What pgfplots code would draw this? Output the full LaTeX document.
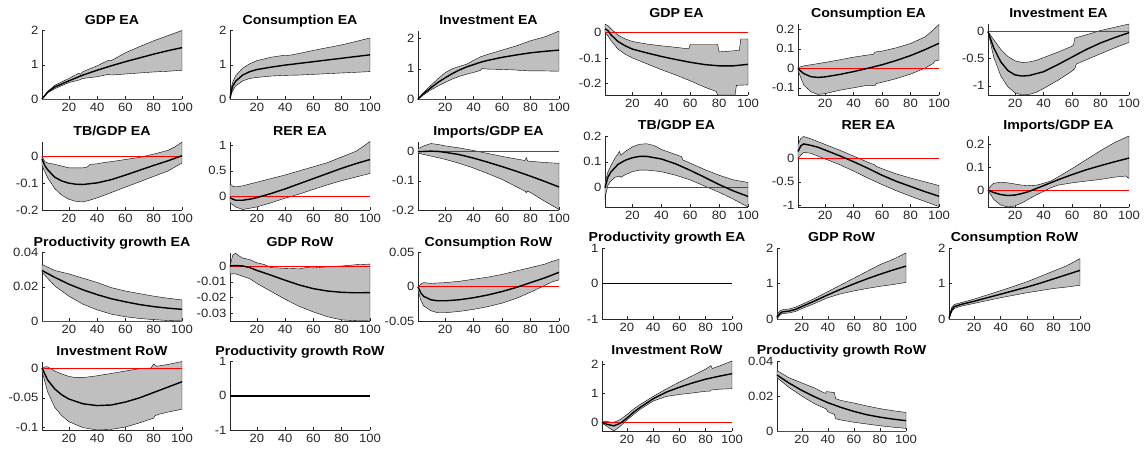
\documentclass[border=0pt]{standalone}
\usepackage{fontspec}
\setmainfont{Liberation Sans}[FakeStretch=1.09]
\usepackage{pgfplots}
\pgfplotsset{compat=1.18}
\definecolor{axg}{RGB}{38,38,38}
\definecolor{bandg}{RGB}{191,191,191}
\pgfplotsset{every axis title/.style={at={(0.5,1)}, anchor=base, yshift=6.5pt, font=\fontsize{13}{14}\selectfont\bfseries},
 irf/.style={scale only axis, anchor=south west, xmin=1, xmax=100,
  xtick={20,40,60,80,100}, xticklabels={20,40,60,80,100},
  axis x line*=bottom, axis y line*=left, tick align=inside,
  axis line style={-,draw=axg,line width=0.6pt},
  major tick style={draw=axg,line width=0.5pt}, major tick length=3pt,
  tick label style={font=\fontsize{12}{12}\selectfont, text=axg},
  xticklabel style={yshift=-1pt},
  scaled y ticks=false, clip=false}}
\newcommand{\irf}[4]{%
\begin{axis}[irf,#1,title={#2}]
\addplot[fill=bandg,draw=black,line width=0.4pt] coordinates {#3} -- cycle;
\addplot[red,line width=0.9pt] coordinates {(1,0) (100,0)};
\addplot[black,line width=1.4pt] coordinates {#4};
\end{axis}}
\newcommand{\irfz}[2]{%
\begin{axis}[irf,#1,title={#2},ymin=-1,ymax=1,ytick={-1,0,1},yticklabels={-1,0,1}]
\addplot[red,line width=0.9pt] coordinates {(1,0) (100,0)};
\addplot[black,line width=1.6pt] coordinates {(1,0) (100,0)};
\end{axis}}
\begin{document}
\begin{tikzpicture}
\useasboundingbox (0,0) rectangle (1144pt,-453pt);
% ===== LEFT PANEL =====
\irf{at={(42pt,-99pt)},width=140pt,height=68.5pt,ymin=0,ymax=2,ytick={0,1,2},yticklabels={0,1,2}}{GDP EA}
{(1,0) (5,0.22) (10,0.4) (20,0.6) (27,0.75) (28,0.72) (30,0.8) (40,0.97) (48,1.13) (50,1.12) (60,1.35) (70,1.53) (80,1.7) (90,1.85) (100,2.0)
 (100,0.84) (90,0.81) (80,0.79) (70,0.76) (60,0.73) (50,0.7) (48,0.72) (40,0.65) (30,0.6) (27,0.55) (20,0.48) (10,0.3) (5,0.18) (1,0)}
{(1,0) (5,0.2) (10,0.35) (20,0.53) (30,0.7) (40,0.84) (50,0.97) (60,1.09) (70,1.2) (80,1.31) (90,1.41) (100,1.5)}
\irf{at={(230pt,-99pt)},width=140pt,height=68.5pt,ymin=0,ymax=2,ytick={0,1,2},yticklabels={0,1,2}}{Consumption EA}
{(1,0.05) (2,0.35) (3,0.5) (5,0.68) (10,0.9) (15,1.03) (20,1.12) (30,1.22) (40,1.28) (42,1.27) (50,1.33) (60,1.42) (70,1.5) (80,1.58) (90,1.68) (100,1.78)
 (100,0.8) (90,0.78) (80,0.76) (70,0.74) (60,0.72) (50,0.7) (40,0.69) (30,0.67) (20,0.63) (15,0.6) (10,0.53) (5,0.38) (3,0.25) (2,0.15) (1,0)}
{(1,0.02) (2,0.25) (3,0.38) (5,0.52) (10,0.7) (15,0.8) (20,0.86) (30,0.93) (40,0.99) (50,1.04) (60,1.09) (70,1.14) (80,1.19) (90,1.24) (100,1.29)}
\irf{at={(418pt,-99pt)},width=141pt,height=68.5pt,ymin=0,ymax=2.27,ytick={0,1,2},yticklabels={0,1,2}}{Investment EA}
{(1,0) (5,0.22) (10,0.45) (15,0.67) (20,0.87) (25,1.0) (30,1.08) (35,1.15) (40,1.28) (45,1.4) (50,1.48) (55,1.55) (60,1.62) (70,1.76) (80,1.93) (90,2.06) (100,2.25)
 (100,0.92) (90,0.93) (80,0.93) (72,0.95) (70,0.96) (60,0.98) (50,0.99) (46,1.01) (45,0.95) (40,0.88) (35,0.82) (30,0.75) (25,0.66) (20,0.55) (15,0.43) (10,0.3) (5,0.14) (1,0)}
{(1,0) (5,0.18) (10,0.37) (15,0.55) (20,0.7) (25,0.84) (30,0.96) (35,1.06) (40,1.14) (45,1.22) (50,1.28) (60,1.38) (70,1.46) (80,1.53) (90,1.58) (100,1.62)}
\irf{at={(42pt,-210pt)},width=140pt,height=68.5pt,ymin=-0.2,ymax=0.055,ytick={-0.2,-0.1,0},yticklabels={-0.2,-0.1,0}}{TB/GDP EA}
{(1,0) (3,-0.02) (5,-0.025) (10,-0.03) (20,-0.043) (30,-0.043) (33,-0.04) (35,-0.03) (40,-0.028) (45,-0.023) (50,-0.02) (60,-0.012) (70,-0.004) (80,0.008) (85,0.015) (90,0.022) (95,0.035) (100,0.053)
 (100,-0.025) (95,-0.04) (90,-0.055) (80,-0.075) (70,-0.095) (60,-0.115) (50,-0.135) (40,-0.155) (35,-0.163) (30,-0.17) (25,-0.168) (20,-0.16) (15,-0.145) (10,-0.12) (5,-0.08) (1,-0.035)}
{(1,-0.01) (3,-0.035) (5,-0.05) (10,-0.078) (15,-0.092) (20,-0.1) (25,-0.104) (30,-0.105) (40,-0.099) (50,-0.087) (60,-0.07) (70,-0.052) (80,-0.034) (90,-0.017) (100,0.002)}
\irf{at={(230pt,-210pt)},width=140pt,height=68.5pt,ymin=-0.26,ymax=1.07,ytick={0,0.5,1},yticklabels={0,0.5,1}}{RER EA}
{(1,0.25) (3,0.2) (5,0.19) (10,0.21) (20,0.28) (30,0.35) (40,0.42) (50,0.5) (60,0.58) (70,0.66) (80,0.77) (90,0.88) (95,0.97) (100,1.07)
 (100,0.45) (90,0.38) (80,0.31) (70,0.23) (60,0.14) (50,0.05) (40,-0.03) (30,-0.12) (20,-0.2) (10,-0.25) (5,-0.2) (1,-0.12)}
{(1,-0.02) (3,-0.05) (5,-0.07) (10,-0.07) (15,-0.05) (20,-0.02) (30,0.06) (40,0.15) (50,0.25) (60,0.35) (70,0.45) (80,0.55) (90,0.64) (100,0.72)}
\irf{at={(418pt,-210pt)},width=141pt,height=68.5pt,ymin=-0.2,ymax=0.035,ytick={-0.2,-0.1,0},yticklabels={-0.2,-0.1,0}}{Imports/GDP EA}
{(1,0.01) (5,0.02) (10,0.028) (15,0.025) (20,0.02) (30,0.013) (40,0.004) (50,-0.006) (60,-0.016) (70,-0.025) (76,-0.03) (77,-0.02) (78,-0.032) (90,-0.037) (100,-0.04)
 (100,-0.198) (90,-0.17) (80,-0.14) (78,-0.135) (77,-0.14) (76,-0.135) (70,-0.12) (60,-0.095) (50,-0.075) (40,-0.056) (30,-0.04) (20,-0.026) (10,-0.015) (1,-0.005)}
{(1,0) (10,0.002) (15,0.001) (20,-0.002) (30,-0.01) (40,-0.022) (50,-0.036) (60,-0.051) (70,-0.067) (80,-0.084) (90,-0.102) (100,-0.121)}
\irf{at={(42pt,-321pt)},width=140pt,height=68.5pt,ymin=0,ymax=0.04,ytick={0,0.02,0.04},yticklabels={0,0.02,0.04}}{Productivity growth EA}
{(1,0.033) (10,0.0295) (20,0.0275) (30,0.025) (40,0.0225) (50,0.0195) (60,0.0175) (70,0.016) (80,0.0145) (90,0.0133) (100,0.0123)
 (100,0) (90,0.0003) (80,0.0008) (70,0.0015) (60,0.0025) (50,0.004) (40,0.0065) (30,0.0098) (20,0.0145) (10,0.0205) (1,0.0285)}
{(1,0.0295) (10,0.0255) (20,0.0215) (30,0.0182) (40,0.0154) (50,0.013) (60,0.0112) (70,0.0096) (80,0.0084) (90,0.0075) (100,0.0068)}
\irf{at={(230pt,-321pt)},width=140pt,height=68.5pt,ymin=-0.0347,ymax=0.0085,ytick={-0.03,-0.02,-0.01,0},yticklabels={-0.03,-0.02,-0.01,0}}{GDP RoW}
{(1,0.0) (3,0.007) (5,0.008) (8,0.006) (10,0.005) (15,0.004) (20,0.002) (25,0.001) (30,-0.001) (40,-0.0015) (50,-0.0018) (55,-0.001) (60,-0.0012) (70,-0.0005) (80,0.0) (90,0.0008) (100,0.0012)
 (100,-0.0347) (90,-0.0345) (80,-0.034) (70,-0.032) (60,-0.029) (50,-0.0255) (40,-0.021) (30,-0.016) (20,-0.011) (15,-0.008) (10,-0.0065) (5,-0.005) (1,-0.005)}
{(1,0) (5,0.0003) (10,0.0) (15,-0.001) (20,-0.0028) (30,-0.0058) (40,-0.009) (50,-0.012) (60,-0.0143) (70,-0.0158) (80,-0.0166) (90,-0.0169) (100,-0.0168)}
\irf{at={(418pt,-321pt)},width=141pt,height=68.5pt,ymin=-0.05,ymax=0.05,ytick={-0.05,0,0.05},yticklabels={-0.05,0,0.05}}{Consumption RoW}
{(1,0) (3,0.004) (5,0.006) (10,0.005) (20,0.006) (30,0.008) (40,0.011) (50,0.014) (60,0.018) (70,0.023) (80,0.028) (90,0.033) (95,0.037) (100,0.04)
 (100,0.01) (95,0.007) (90,0.002) (80,-0.008) (70,-0.017) (60,-0.024) (50,-0.029) (40,-0.033) (30,-0.036) (20,-0.038) (15,-0.038) (10,-0.035) (5,-0.028) (3,-0.02) (1,-0.005)}
{(1,0) (3,-0.009) (5,-0.014) (10,-0.019) (15,-0.0205) (20,-0.0205) (30,-0.019) (40,-0.016) (50,-0.012) (60,-0.007) (70,-0.001) (80,0.006) (90,0.013) (100,0.021)}
\irf{at={(42pt,-430pt)},width=140pt,height=68.5pt,ymin=-0.104,ymax=0.011,ytick={-0.1,-0.05,0},yticklabels={-0.1,-0.05,0}}{Investment RoW}
{(1,0) (3,0.002) (5,0.002) (8,-0.002) (10,-0.005) (13,-0.008) (15,-0.01) (20,-0.014) (25,-0.016) (30,-0.016) (40,-0.013) (50,-0.009) (60,-0.005) (70,-0.001) (78,0.0) (80,0.007) (82,0.003) (90,0.006) (100,0.011)
 (100,-0.069) (90,-0.074) (83,-0.078) (81,-0.08) (80,-0.084) (70,-0.092) (60,-0.099) (50,-0.103) (40,-0.104) (30,-0.1) (20,-0.09) (15,-0.08) (10,-0.066) (5,-0.04) (1,-0.005)}
{(1,0) (5,-0.02) (10,-0.035) (15,-0.045) (20,-0.052) (30,-0.06) (40,-0.063) (50,-0.062) (60,-0.057) (70,-0.05) (80,-0.041) (90,-0.032) (100,-0.023)}
\irfz{at={(230pt,-430pt)},width=140pt,height=68.5pt}{Productivity growth RoW}
% ===== RIGHT PANEL =====
\irf{at={(605pt,-95pt)},width=143pt,height=71pt,ymin=-0.246,ymax=0.034,ytick={-0.2,-0.1,0},yticklabels={-0.2,-0.1,0}}{GDP EA}
{(1,0.033) (3,0.028) (5,0.016) (10,-0.01) (15,-0.025) (20,-0.035) (30,-0.045) (40,-0.052) (50,-0.058) (59,-0.064) (60,-0.046) (79,-0.046) (80,-0.076) (94,-0.07) (95,-0.025) (100,-0.025)
 (100,-0.206) (92,-0.208) (91,-0.246) (79,-0.246) (78,-0.232) (70,-0.215) (60,-0.19) (50,-0.167) (40,-0.146) (30,-0.123) (20,-0.1) (15,-0.085) (10,-0.065) (5,-0.03) (3,-0.012) (1,0.0)}
{(1,0.015) (3,0.008) (5,-0.008) (10,-0.035) (15,-0.052) (20,-0.065) (30,-0.08) (40,-0.094) (50,-0.106) (60,-0.117) (70,-0.126) (80,-0.131) (90,-0.131) (100,-0.125)}
\irf{at={(798pt,-95pt)},width=141pt,height=71pt,ymin=-0.137,ymax=0.227,ytick={-0.1,0,0.1,0.2},yticklabels={-0.1,0,0.1,0.2}}{Consumption EA}
{(1,0.003) (3,0.008) (5,0.012) (10,0.018) (20,0.03) (30,0.043) (40,0.057) (50,0.068) (54,0.072) (55,0.083) (60,0.088) (70,0.105) (80,0.127) (90,0.16) (95,0.19) (100,0.225)
 (100,0.042) (97,0.038) (96,0.025) (90,0.0) (80,-0.03) (70,-0.053) (60,-0.072) (56,-0.078) (55,-0.09) (50,-0.087) (40,-0.1) (30,-0.113) (20,-0.13) (15,-0.134) (10,-0.12) (5,-0.085) (3,-0.05) (1,-0.01)}
{(1,0) (3,-0.015) (5,-0.027) (10,-0.043) (15,-0.047) (20,-0.044) (30,-0.032) (40,-0.017) (50,0.0) (60,0.018) (70,0.04) (80,0.065) (90,0.095) (100,0.128)}
\irf{at={(988pt,-95pt)},width=141pt,height=71pt,ymin=-1.17,ymax=0.14,ytick={-1,-0.5,0},yticklabels={-1,-0.5,0}}{Investment EA}
{(1,0) (5,-0.15) (10,-0.33) (15,-0.46) (20,-0.54) (25,-0.57) (30,-0.56) (35,-0.53) (40,-0.48) (50,-0.38) (60,-0.27) (61,-0.25) (62,-0.12) (70,-0.06) (80,0.02) (90,0.08) (100,0.14)
 (100,-0.2) (90,-0.3) (80,-0.41) (70,-0.52) (63,-0.6) (62,-0.68) (60,-0.73) (50,-0.9) (40,-1.05) (35,-1.12) (30,-1.16) (25,-1.17) (20,-1.13) (15,-1.02) (10,-0.82) (5,-0.47) (1,0)}
{(1,0) (5,-0.3) (10,-0.56) (15,-0.72) (20,-0.8) (25,-0.82) (30,-0.81) (40,-0.74) (50,-0.61) (60,-0.47) (70,-0.33) (80,-0.21) (90,-0.11) (100,-0.02)}
\irf{at={(605pt,-207pt)},width=143pt,height=71pt,ymin=-0.075,ymax=0.2,ytick={0,0.1,0.2},yticklabels={0,0.1,0.2}}{TB/GDP EA}
{(1,0.02) (3,0.06) (5,0.085) (8,0.115) (11,0.14) (12,0.125) (15,0.14) (20,0.158) (25,0.168) (30,0.17) (35,0.163) (40,0.148) (50,0.128) (54,0.12) (55,0.107) (60,0.095) (70,0.07) (80,0.048) (90,0.03) (100,0.02)
 (100,-0.075) (90,-0.045) (80,-0.018) (70,0.006) (60,0.03) (50,0.048) (40,0.062) (30,0.068) (25,0.068) (20,0.062) (15,0.05) (12,0.04) (11,0.045) (8,0.04) (5,0.025) (3,0.01) (1,-0.04)}
{(1,0) (3,0.04) (5,0.06) (10,0.09) (15,0.106) (20,0.116) (25,0.121) (30,0.121) (40,0.111) (50,0.092) (60,0.067) (70,0.04) (80,0.012) (90,-0.013) (100,-0.034)}
\irf{at={(798pt,-207pt)},width=141pt,height=71pt,ymin=-1.04,ymax=0.48,ytick={-1,-0.5,0},yticklabels={-1,-0.5,0}}{RER EA}
{(1,0.3) (3,0.43) (5,0.47) (10,0.42) (15,0.36) (20,0.3) (30,0.18) (40,0.05) (50,-0.08) (55,-0.14) (56,-0.17) (60,-0.22) (70,-0.33) (80,-0.42) (90,-0.5) (100,-0.58)
 (100,-1.03) (90,-0.92) (80,-0.81) (70,-0.69) (60,-0.56) (50,-0.42) (40,-0.27) (30,-0.13) (20,-0.01) (15,0.05) (10,0.11) (5,0.13) (3,0.07) (1,0.0)}
{(1,0.15) (3,0.27) (5,0.31) (10,0.28) (15,0.24) (20,0.18) (30,0.06) (40,-0.07) (50,-0.21) (60,-0.36) (70,-0.49) (80,-0.6) (90,-0.71) (100,-0.81)}
\irf{at={(988pt,-207pt)},width=141pt,height=71pt,ymin=-0.073,ymax=0.236,ytick={0,0.1,0.2},yticklabels={0,0.1,0.2}}{Imports/GDP EA}
{(1,0.0) (3,0.02) (5,0.03) (10,0.035) (15,0.032) (20,0.027) (25,0.022) (30,0.02) (35,0.022) (40,0.03) (45,0.04) (50,0.057) (60,0.094) (70,0.133) (80,0.172) (90,0.208) (100,0.236)
 (100,0.052) (99,0.055) (98,0.062) (90,0.057) (80,0.047) (70,0.04) (60,0.032) (50,0.022) (45,0.01) (40,-0.005) (35,-0.02) (30,-0.037) (25,-0.055) (20,-0.068) (15,-0.073) (10,-0.065) (5,-0.04) (3,-0.02) (1,-0.003)}
{(1,0) (5,-0.01) (10,-0.019) (15,-0.023) (20,-0.021) (25,-0.014) (30,-0.005) (40,0.02) (50,0.045) (60,0.068) (70,0.089) (80,0.107) (90,0.124) (100,0.14)}
\irfz{at={(602pt,-319pt)},width=130pt,height=71pt}{Productivity growth EA}
\irf{at={(777pt,-319pt)},width=129pt,height=71pt,ymin=0,ymax=2,ytick={0,1,2},yticklabels={0,1,2}}{GDP RoW}
{(1,0.12) (3,0.22) (5,0.26) (10,0.28) (15,0.33) (20,0.41) (30,0.58) (40,0.77) (50,0.96) (60,1.15) (70,1.34) (80,1.53) (90,1.68) (100,1.86)
 (100,1.03) (90,0.97) (80,0.92) (70,0.86) (60,0.79) (50,0.71) (40,0.6) (30,0.44) (20,0.29) (15,0.21) (10,0.17) (5,0.15) (3,0.1) (1,0.0)}
{(1,0.05) (3,0.15) (5,0.2) (10,0.22) (15,0.27) (20,0.35) (30,0.51) (40,0.68) (50,0.84) (60,0.99) (70,1.13) (80,1.26) (90,1.38) (100,1.49)}
\irf{at={(949pt,-319pt)},width=131pt,height=71pt,ymin=0,ymax=2,ytick={0,1,2},yticklabels={0,1,2}}{Consumption RoW}
{(1,0.05) (3,0.32) (5,0.41) (10,0.46) (20,0.56) (30,0.68) (40,0.8) (50,0.92) (60,1.05) (70,1.2) (80,1.35) (90,1.5) (100,1.7)
 (100,0.95) (90,0.9) (80,0.86) (70,0.8) (60,0.74) (50,0.67) (40,0.6) (30,0.52) (20,0.44) (10,0.36) (5,0.3) (3,0.2) (1,0.0)}
{(1,0.02) (3,0.26) (5,0.35) (10,0.41) (20,0.5) (30,0.6) (40,0.7) (50,0.8) (60,0.9) (70,1.01) (80,1.13) (90,1.25) (100,1.37)}
\irf{at={(602pt,-431pt)},width=130pt,height=70pt,ymin=-0.3,ymax=2.13,ytick={0,1,2},yticklabels={0,1,2}}{Investment RoW}
{(1,0.02) (5,0.03) (8,0.0) (10,0.0) (15,0.1) (20,0.27) (25,0.46) (30,0.62) (40,0.9) (50,1.16) (60,1.4) (70,1.62) (80,1.85) (84,1.97) (85,1.87) (90,1.95) (100,2.13)
 (100,1.17) (90,1.15) (84,1.12) (83,1.08) (80,1.08) (70,1.02) (60,0.97) (50,0.9) (40,0.74) (30,0.45) (25,0.27) (20,0.08) (15,-0.13) (10,-0.3) (5,-0.15) (1,-0.02)}
{(1,0) (5,-0.07) (10,-0.12) (15,-0.03) (20,0.15) (25,0.35) (30,0.52) (40,0.82) (50,1.05) (60,1.22) (70,1.37) (80,1.5) (90,1.6) (100,1.69)}
\irf{at={(777pt,-431pt)},width=129pt,height=70pt,ymin=0,ymax=0.04,ytick={0,0.02,0.04},yticklabels={0,0.02,0.04}}{Productivity growth RoW}
{(1,0.0345) (10,0.0305) (20,0.0275) (30,0.0245) (38,0.0215) (39,0.0225) (45,0.022) (46,0.0185) (50,0.0175) (60,0.016) (70,0.0143) (80,0.0128) (90,0.0116) (100,0.0106)
 (100,0.0015) (90,0.0022) (80,0.003) (70,0.004) (60,0.005) (50,0.0063) (46,0.007) (45,0.0095) (40,0.011) (39,0.0125) (30,0.0155) (20,0.02) (10,0.025) (1,0.0305)}
{(1,0.032) (10,0.0275) (20,0.0232) (30,0.0195) (40,0.0162) (50,0.0135) (60,0.0112) (70,0.0093) (80,0.0079) (90,0.0068) (100,0.0059)}
\end{tikzpicture}
\end{document}
